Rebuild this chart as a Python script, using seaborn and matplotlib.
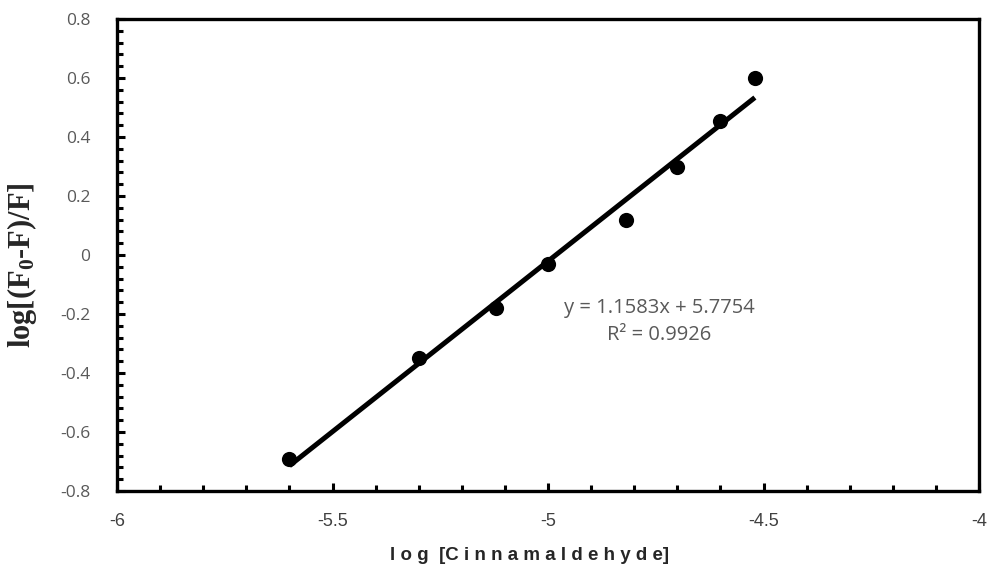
import numpy as np
import pandas as pd
import matplotlib
matplotlib.use("Agg")
import matplotlib.pyplot as plt
import seaborn as sns
from matplotlib.ticker import MultipleLocator, FuncFormatter

# Stern-Volmer type double log plot
log_conc = [-5.6, -5.3, -5.12, -5.0, -4.82, -4.7, -4.6, -4.52]
log_ratio = [-0.69, -0.35, -0.18, -0.03, 0.12, 0.30, 0.455, 0.60]
eq_text = "y = 1.1583x + 5.7754"
r2_text = "R\u00b2 = 0.9926"
x_ticks = [-6, -5.5, -5, -4.5, -4]
y_ticks = [-0.8, -0.6, -0.4, -0.2, 0, 0.2, 0.4, 0.6, 0.8]

df = pd.DataFrame({"x": log_conc, "y": log_ratio})

sns.set_style("white")
plt.rcParams['mathtext.default'] = 'regular'

fig = plt.figure(figsize=(9.89, 5.74), dpi=100)
ax = fig.add_axes([117/989, 1-491/574, (979-117)/989, (491-19)/574])

sns.regplot(data=df, x="x", y="y", ax=ax, ci=None, color="black",
            scatter_kws={"s": 120, "alpha": 1, "linewidths": 0, "zorder": 3},
            line_kws={"lw": 3.6, "solid_capstyle": "butt"})

ax.set_xlim(-6, -4)
ax.set_ylim(-0.8, 0.8)
ax.set_xticks(x_ticks)
ax.set_yticks(y_ticks)
ax.xaxis.set_minor_locator(MultipleLocator(0.1))
ax.yaxis.set_minor_locator(MultipleLocator(0.04))
ax.xaxis.set_major_formatter(FuncFormatter(lambda v, p: f"{v:g}"))
ax.yaxis.set_major_formatter(FuncFormatter(lambda v, p: "0" if abs(v) < 1e-9 else f"{v:.1f}"))

ax.tick_params(axis="both", which="both", direction="in", color="black",
               bottom=True, left=True, top=False, right=False, width=2.2)
ax.tick_params(axis="both", which="major", length=5.5)
ax.tick_params(axis="both", which="minor", length=4)
ax.tick_params(axis="y", which="major", pad=19, labelsize=12.5, labelcolor="#595959")
ax.tick_params(axis="x", which="major", pad=16, labelsize=13, labelcolor="#404040")

for lab in ax.get_yticklabels():
    lab.set_fontfamily("Open Sans")
for lab in ax.get_xticklabels():
    lab.set_fontfamily("Liberation Sans")

for sp in ax.spines.values():
    sp.set_visible(True)
    sp.set_color("black")
    sp.set_linewidth(2.4)

ax.set_xlabel("l o g  [C i n n a m a l d e h y d e]", fontfamily="Liberation Sans",
              fontweight="bold", fontsize=13.5)
ax.xaxis.set_label_coords(0.479, -0.118)
ax.set_ylabel("log[(F$_0$-F)/F]", fontfamily="Liberation Serif",
              fontweight="bold", fontsize=22)
ax.yaxis.set_label_coords(-0.110, 0.479)
ax.yaxis.label.set_va("center")

ax.text(-4.742, -0.18, eq_text, ha="center", va="center", fontfamily="Open Sans",
        fontsize=14.5, color="#595959")
ax.text(-4.742, -0.272, r2_text, ha="center", va="center", fontfamily="Open Sans",
        fontsize=14.5, color="#595959")

fig.savefig("out.png", dpi=100)
